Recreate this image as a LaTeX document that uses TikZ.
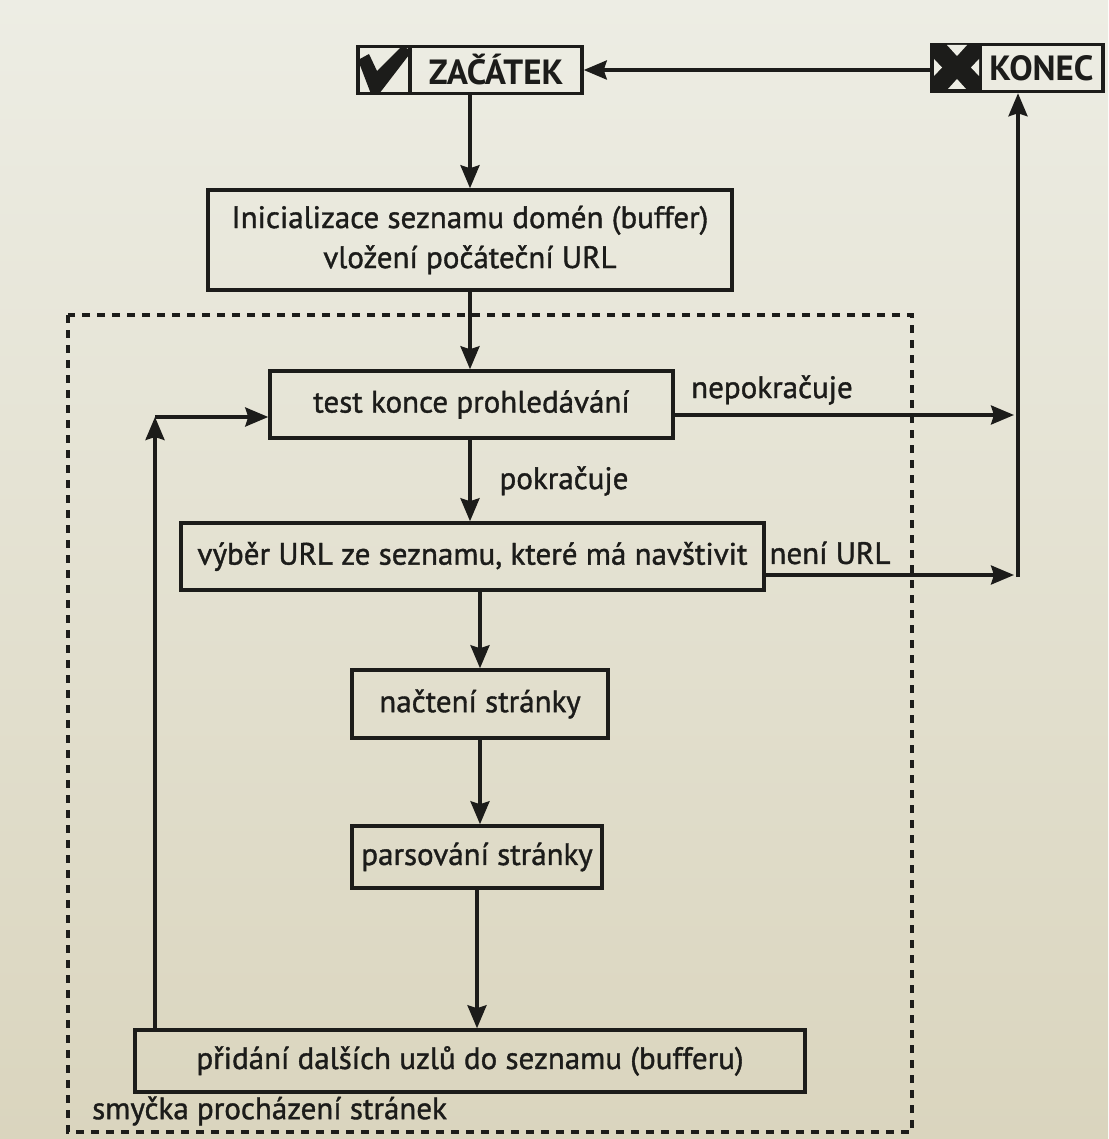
\documentclass[tikz,border=0pt]{standalone}
\usepackage{fontspec}
\setmainfont{PT Sans}
\newfontfamily\heavy{PT Sans}[FakeBold=1.2]
\usetikzlibrary{arrows.meta}
\definecolor{paperA}{HTML}{EDEDE4}
\definecolor{paperB}{HTML}{DAD5BE}
\definecolor{ink}{HTML}{1C1C1A}
\begin{document}
\begin{tikzpicture}[x=1pt,y=-1pt,
  every node/.style={font=\heavy\fontsize{31}{37}\selectfont, text=ink},
  box/.style={draw=ink, line width=3.5pt, inner sep=0pt, align=center},
  title/.style={box, font=\bfseries\fontsize{35}{40}\selectfont},
  lbl/.style={inner sep=0pt},
  arr/.style={draw=ink, line width=3.5pt, -{Stealth[length=23pt,width=19pt,inset=3pt]}},
  loopbox/.style={draw=ink, line width=3.5pt, dash pattern=on 8pt off 7pt}
]
\useasboundingbox (0,0) rectangle (1108,1139);
\shade[top color=paperA, bottom color=paperB] (0,0) rectangle (1108,1139);

% loop frame
\draw[loopbox] (68,315) rectangle (912,1132);
\node[lbl, anchor=west] (smycka) at (92,1111) {smyčka procházení stránek};

% start
\node[box, minimum width=52pt, minimum height=47pt] (zacI) at (384,70) {};
\node[title, minimum width=172pt, minimum height=47pt] (zac) at (496,70) {ZAČÁTEK};
\fill[ink] (358,60) -- (369,54) -- (377,71) -- (402,46) -- (412,51) -- (379,94) -- (371,94) -- cycle;

% end
\node[box, fill=ink, minimum width=48pt, minimum height=47pt] (konI) at (956,68) {};
\node[title, minimum width=123pt, minimum height=47pt] (kon) at (1041.5,68) {KONEC};
\fill[paperA] (947,45) -- (967,45) -- (957,56) -- cycle;
\fill[paperA] (948,89) -- (966,89) -- (957,79) -- cycle;
\fill[paperA] (934,59) -- (934,76) -- (942,67.5) -- cycle;
\fill[paperA] (979,59) -- (979,76) -- (971,67.5) -- cycle;

% process boxes
\node[box, minimum width=524pt, minimum height=100pt] (init) at (470,240)
  {Inicializace seznamu domén (buffer)\\[3pt]vložení počáteční URL};
\node[box, minimum width=403pt, minimum height=67pt] (test) at (471.5,404.5) {test konce prohledávání};
\node[box, minimum width=583pt, minimum height=67pt] (vyb) at (472.5,556.5) {výběr URL ze seznamu, které má navštivit};
\node[box, minimum width=256pt, minimum height=68pt] (nac) at (480,704) {načtení stránky};
\node[box, minimum width=250pt, minimum height=62pt] (par) at (477,857) {parsování stránky};
\node[box, minimum width=670pt, minimum height=62pt] (pri) at (470,1061) {přidání dalších uzlů do seznamu (bufferu)};

% helper coordinates
\coordinate (corner) at (155,417);
\coordinate (nep) at (1014,415);
\coordinate (nu) at (1014,575);
\coordinate (vr) at (1018,577);

% connectors
\draw[arr] (konI.west |- zac.east) -- (zac.east);
\draw[arr] (init.north |- zac.south) -- (init.north);
\draw[arr] (init.south) -- (init.south |- test.north);
\draw[arr] (init.south |- test.south) -- (init.south |- vyb.north);
\draw[arr] (nac.north |- vyb.south) -- (nac.north);
\draw[arr] (nac.south) -- (nac.south |- par.north);
\draw[arr] (par.south) -- (par.south |- pri.north);
\draw[arr] (pri.north -| corner) -- (corner);
\draw[arr] (corner) -- (corner -| test.west);
\draw[arr] (test.east |- nep) -- (nep);
\draw[arr] (vyb.east |- nu) -- (nu);
\draw[arr] (vr) -- (vr |- kon.south);

% labels
\node[lbl] (lnep) at (772,390) {nepokračuje};
\node[lbl] (lpok) at (564,481) {pokračuje};
\node[lbl] (lnu) at (830,553) {není URL};
\end{tikzpicture}
\end{document}
